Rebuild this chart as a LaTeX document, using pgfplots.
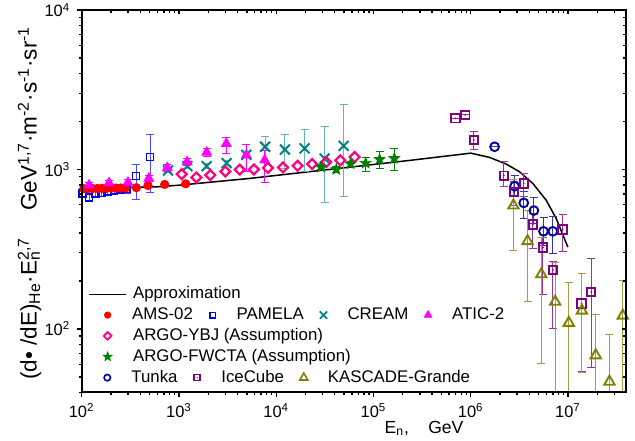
\documentclass[border=0pt]{standalone}
\usepackage{fontspec}
\setmainfont{Liberation Sans}
\usepackage{pgfplots}
\pgfplotsset{compat=1.18}
\usetikzlibrary{plotmarks}

\definecolor{amsc}{RGB}{255,0,0}
\definecolor{pamc}{RGB}{0,0,255}
\definecolor{crec}{RGB}{0,128,128}
\definecolor{atic}{RGB}{255,0,255}
\definecolor{ybjc}{RGB}{255,0,128}
\definecolor{fwc}{RGB}{0,128,0}
\definecolor{tunc}{RGB}{0,0,160}
\definecolor{icec}{RGB}{128,0,128}
\definecolor{kasc}{RGB}{128,128,0}

% filled five-pointed star (Origin style)
\pgfdeclareplotmark{fstar}{%
  \pgfpathmoveto{\pgfpointpolar{90}{1\pgfplotmarksize}}%
  \pgfpathlineto{\pgfpointpolar{126}{0.42\pgfplotmarksize}}%
  \pgfpathlineto{\pgfpointpolar{162}{1\pgfplotmarksize}}%
  \pgfpathlineto{\pgfpointpolar{198}{0.42\pgfplotmarksize}}%
  \pgfpathlineto{\pgfpointpolar{234}{1\pgfplotmarksize}}%
  \pgfpathlineto{\pgfpointpolar{270}{0.42\pgfplotmarksize}}%
  \pgfpathlineto{\pgfpointpolar{306}{1\pgfplotmarksize}}%
  \pgfpathlineto{\pgfpointpolar{342}{0.42\pgfplotmarksize}}%
  \pgfpathlineto{\pgfpointpolar{18}{1\pgfplotmarksize}}%
  \pgfpathlineto{\pgfpointpolar{54}{0.42\pgfplotmarksize}}%
  \pgfpathclose\pgfusepathqfillstroke}
% open square with a dot in the middle
\pgfdeclareplotmark{sqdot}{%
  \pgfpathrectangle{\pgfpoint{-\pgfplotmarksize}{-\pgfplotmarksize}}{\pgfpoint{2\pgfplotmarksize}{2\pgfplotmarksize}}%
  \pgfusepathqstroke
  \pgfpathcircle{\pgfpointorigin}{0.22\pgfplotmarksize}%
  \pgfusepathqfill}

\pgfplotsset{
  legbase/.style={
    legend cell align=left,
    legend image code/.code={\path (0bp,0bp) (18.5bp,0bp);
      \draw[mark repeat=2,mark phase=2] plot coordinates {(0bp,0bp)(9.25bp,0bp)(18.5bp,0bp)};},
    legend style={draw=none, fill=none, inner sep=0pt, row sep=2.5bp,
      font=\fontsize{8.45}{10}\selectfont,
      nodes={inner xsep=0pt, inner ysep=0pt, text height=6.2bp, text depth=1.7bp},
      /tikz/every odd column/.append style={column sep=2.6bp},
      /tikz/every even column/.append style={column sep=0.4bp}},
  },
}

\begin{document}
\begin{tikzpicture}
\useasboundingbox (-40.85bp,-24.35bp) rectangle (276.65bp,196.15bp);
\begin{axis}[
  scale only axis, width=272.15bp, height=191.15bp,
  xmode=log, ymode=log, xmin=100, xmax=3.95e7, ymin=40, ymax=1e4,
  major tick length=2.2bp, minor tick length=1.4bp,
  axis line style={line width=0.9bp},
  every tick/.style={black, line width=0.7bp},
  log number format basis/.code 2 args={10\textsuperscript{\pgfmathprintnumber[assume math mode=true]{#2}}},
  tick label style={font=\fontsize{8.25}{10}\selectfont},
  tick align=outside, xtick pos=left, ytick pos=left,
  xlabel={E\textsubscript{n},\hspace{1.1em}GeV},
  xlabel style={at={(axis description cs:0.629,-0.1065)}, anchor=base, font=\fontsize{8.8}{10}\selectfont},
  ylabel={(d• /dE)\textsubscript{He}·E\rlap{\textsubscript{n}}\textsuperscript{2,7}\hspace{1.2em}GeV\textsuperscript{1,7}·m\textsuperscript{-2}·s\textsuperscript{-1}·sr\textsuperscript{-1}},
  ylabel style={at={(axis description cs:-0.0827,0.495)}, anchor=base, font=\fontsize{11.3}{13}\selectfont},
  legend columns=4, legbase,
  legend style={at={(axis description cs:0.0116,0.278)}, anchor=north west},
]
% legend, rows 1-4 (single entries run across the columns)
\addlegendimage{black, line width=0.75bp}\addlegendentry{\rlap{Approximation}}
\addlegendimage{empty legend}\addlegendentry{}
\addlegendimage{empty legend}\addlegendentry{}
\addlegendimage{empty legend}\addlegendentry{}
\addlegendimage{only marks, mark=*, amsc, mark size=1.6bp}\addlegendentry{AMS-02}
\addlegendimage{only marks, mark=square, pamc, mark size=1.4bp, mark options={line width=0.8bp}}\addlegendentry{PAMELA}
\addlegendimage{only marks, mark=x, crec, mark size=2.6bp, mark options={line width=0.9bp}}\addlegendentry{CREAM}
\addlegendimage{only marks, mark=triangle*, atic, mark size=2.2bp}\addlegendentry{ATIC-2}
\addlegendimage{only marks, mark=square, ybjc, mark size=1.35bp, mark options={rotate=45, line width=0.9bp}}\addlegendentry{\rlap{ARGO-YBJ (Assumption)}}
\addlegendimage{empty legend}\addlegendentry{}
\addlegendimage{empty legend}\addlegendentry{}
\addlegendimage{empty legend}\addlegendentry{}
\addlegendimage{only marks, mark=fstar, fwc, mark size=2.3bp}\addlegendentry{\rlap{ARGO-FWCTA (Assumption)}}
\addlegendimage{empty legend}\addlegendentry{}
\addlegendimage{empty legend}\addlegendentry{}
\addlegendimage{empty legend}\addlegendentry{}

% approximation
\addplot[black, line width=0.75bp, forget plot] coordinates {
  (100,757)(590,778)(1017,797)(5310,878)(35400,1000)(2.35e5,1139)(1e6,1265)
  (1.56e6,1190)(2.32e6,1080)(3.18e6,966)(4.35e6,817)(5.97e6,641)(7.57e6,492)(9.96e6,326)};

% PAMELA
\addplot[pamc, only marks, mark=square, mark size=1.75bp, mark options={line width=0.8bp}, forget plot,
  error bars/.cd, y dir=both, y explicit,
  error bar style={pamc!70, line width=0.5bp}, error mark options={rotate=90, pamc!70, mark size=2bp, line width=0.5bp}]
  coordinates {
  (101.7,706) +- (0,30) (119,667) +- (0,30) (138,706) +- (0,35) (160,712) +- (0,38)
  (185,725) +- (0,40) (215,735) +- (0,42) (250,748) +- (0,45) (290,752) +- (0,48)
  (363,908) += (0,171) -= (0,260) (506,1200) += (0,460) -= (0,483)};

% AMS-02
\addplot[amsc, only marks, mark=*, mark size=2.1bp, forget plot] coordinates {
  (105,757)(117,758)(130,759)(145,760)(162,761)(181,762)(202,763)(226,764)
  (252,765)(282,766)(365,768)(480,793)(713,805)(1172,812)};

% CREAM
\addplot[crec, only marks, mark=x, mark size=3.5bp, mark options={line width=1bp}, forget plot,
  error bars/.cd, y dir=both, y explicit,
  error bar style={crec!60, line width=0.5bp}, error mark options={rotate=90, crec!60, mark size=2bp, line width=0.5bp}]
  coordinates {
  (771,985) +- (0,30) (1219,1049) +- (0,35) (1927,1049) +- (0,40) (3090,1096) +- (0,45)
  (4930,1235) +- (0,50) (7690,1387) += (0,232) -= (0,260) (12300,1332) += (0,313) -= (0,313)
  (19600,1355) += (0,438) -= (0,379) (31400,1169) += (0,685) -= (0,549) (49300,1406) += (0,1160) -= (0,733)};

% ATIC-2
\addplot[atic, only marks, mark=triangle*, mark size=2.8bp, forget plot,
  error bars/.cd, y dir=both, y explicit,
  error bar style={atic, line width=0.5bp}, error mark options={rotate=90, atic, mark size=2bp, line width=0.5bp}]
  coordinates {
  (119,797) +- (0,25) (191,823) +- (0,30) (299,828) +- (0,35) (489,878) +- (0,40)
  (760,1023) +- (0,50) (1213,1116) +- (0,60) (1927,1279) +- (0,70)
  (3070,1453) += (0,127) -= (0,193) (4930,1230) += (0,206) -= (0,254) (7600,1144) += (0,178) -= (0,321)};

% ARGO-YBJ
\addplot[ybjc, only marks, mark=square, mark size=1.75bp, mark options={rotate=45, line width=1.1bp}, forget plot]
  coordinates {
  (1067,934)(1510,891)(2103,921)(3000,971)(4210,997)(5900,1000)(8220,1023)
  (11730,1029)(16600,1053)(23400,1080)(32700,1112)(45600,1139)(64000,1195)};

% ARGO-FWCTA
\addplot[fwc, only marks, mark=fstar, mark size=2.8bp, forget plot,
  error bars/.cd, y dir=both, y explicit,
  error bar style={fwc, line width=0.5bp}, error mark options={rotate=90, fwc, mark size=2bp, line width=0.5bp}]
  coordinates {
  (28900,1034) +- (0,40) (41500,1000) +- (0,40) (58200,1084) +- (0,45)
  (83000,1095) += (0,91) -= (0,119) (115600,1156) += (0,138) -= (0,141) (163700,1173) += (0,188) -= (0,193)};

% Tunka
\addplot[tunc, only marks, mark=o, mark size=2.2bp, mark options={line width=0.95bp}, forget plot,
  error bars/.cd, y dir=both, y explicit,
  error bar style={tunc!80, line width=0.5bp}, error mark options={rotate=90, tunc!80, mark size=2bp, line width=0.5bp}]
  coordinates {
  (1.76e6,1387) +- (0,0) (2.82e6,785) += (0,136) -= (0,113) (3.51e6,617) += (0,106) -= (0,125)
  (4.46e6,552) += (0,111) -= (0,95) (5.6e6,409) += (0,94) -= (0,75) (6.98e6,409) += (0,99) -= (0,113)};

% IceCube
\addplot[icec, only marks, mark=sqdot, mark size=2.1bp, mark options={line width=0.95bp}, forget plot,
  error bars/.cd, y dir=both, y explicit,
  error bar style={icec!80, line width=0.5bp}, error mark options={rotate=90, icec!80, mark size=2bp, line width=0.5bp}]
  coordinates {
  (6.98e5,2094) +- (0,0) (8.79e5,2195) +- (0,0) (1.08e6,1528) += (0,195) -= (0,186)
  (2.19e6,914) += (0,203) -= (0,136) (2.77e6,723) += (0,121) -= (0,127) (3.51e6,817) += (0,127) -= (0,145)
  (4.35e6,451) += (0,80) -= (0,131) (5.53e6,324) += (0,51) -= (0,160) (7.01e6,234) += (0,29) -= (0,133)
  (8.8e6,420) += (0,103) -= (0,114) (1.38e7,144) += (0,78) -= (0,90) (1.73e7,170) += (0,105) -= (0,112.5)};

% KASCADE-Grande
\addplot[kasc, only marks, mark=triangle, mark size=3bp, mark options={line width=0.95bp}, forget plot,
  error bars/.cd, y dir=both, y explicit,
  error bar style={kasc!75, line width=0.5bp}, error mark options={rotate=90, kasc!75, mark size=2bp, line width=0.5bp}]
  coordinates {
  (2.75e6,594) += (0,271) -= (0,283) (3.84e6,355) += (0,200) -= (0,206) (5.32e6,220) += (0,153) -= (0,159)
  (7.38e6,148) += (0,114) -= (0,123) (1.02e7,109) += (0,85) -= (0,84) (1.39e7,130) += (0,92) -= (0,77)
  (1.93e7,68.2) += (0,54.4) -= (0,43) (2.67e7,46.6) += (0,45.1) -= (0,21.6) (3.66e7,121) += (0,80) -= (0,96)};
\end{axis}

% inward ticks on top and right, and the last legend row
\begin{axis}[
  scale only axis, width=272.15bp, height=191.15bp,
  xmode=log, ymode=log, xmin=100, xmax=3.95e7, ymin=40, ymax=1e4,
  major tick length=2.2bp, minor tick length=1.4bp,
  axis line style={line width=0.9bp},
  every tick/.style={black, line width=0.7bp},
  tick align=inside, xtick pos=right, ytick pos=right,
  xticklabels={}, yticklabels={},
  legend columns=-1, legbase,
  legend style={at={(axis description cs:0.0116,0.060)}, anchor=north west},
]
\addlegendimage{only marks, mark=o, tunc, mark size=1.6bp, mark options={line width=0.8bp}}\addlegendentry{Tunka}
\addlegendimage{only marks, mark=sqdot, icec, mark size=1.5bp, mark options={line width=0.8bp}}\addlegendentry{IceCube}
\addlegendimage{only marks, mark=triangle, kasc, mark size=2.3bp, mark options={line width=0.8bp}}\addlegendentry{KASCADE-Grande}
\addplot[draw=none, forget plot] coordinates {(1e3,1e3)(1e4,1e4)};
\end{axis}
\end{tikzpicture}
\end{document}
